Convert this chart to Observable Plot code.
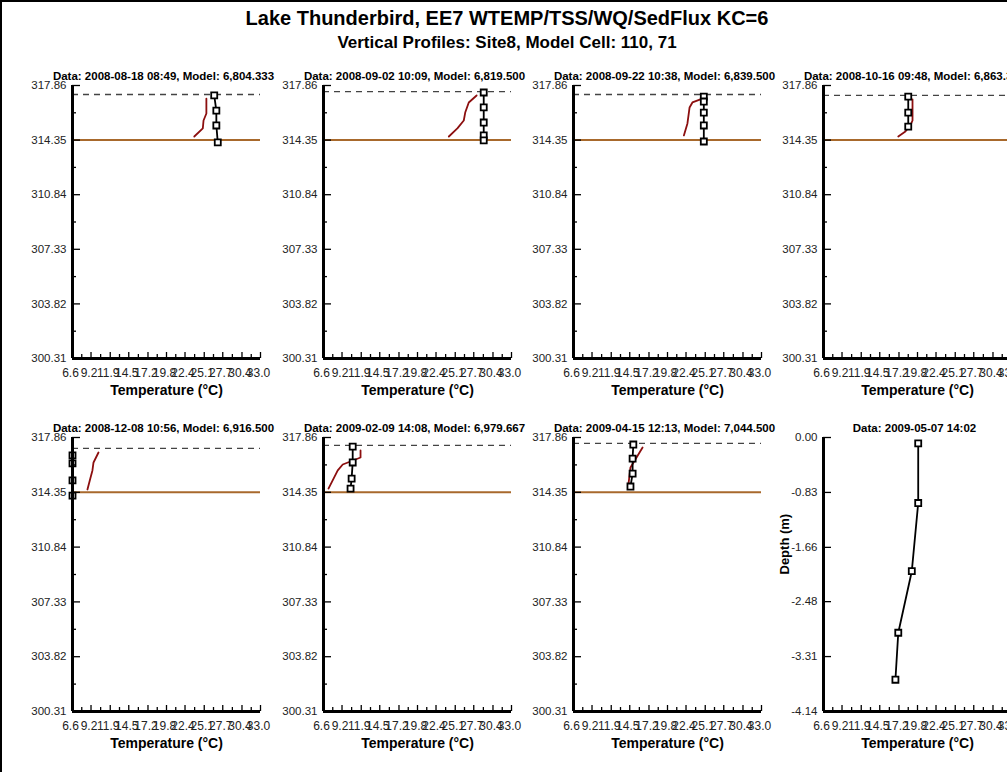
<!DOCTYPE html>
<html><head><meta charset="utf-8">
<script src="https://cdn.jsdelivr.net/npm/d3@7"></script>
<script src="https://cdn.jsdelivr.net/npm/@observablehq/plot@0.6"></script>
<style>
body{margin:0;background:#fff;}
#page{position:relative;width:1007px;height:772px;overflow:hidden;background:#fff;font-family:"Liberation Sans",Arial,sans-serif;}
#frame{position:absolute;left:0;top:0;width:1100px;height:900px;border-left:2px solid #000;border-top:2px solid #000;}
.t{position:absolute;left:0;width:1014px;text-align:center;font-weight:bold;color:#000;white-space:nowrap;line-height:1;}
</style></head><body>
<div id="page"><div id="frame"></div>
<div class="t" id="title" style="top:8px;font-size:20px;"></div>
<div class="t" id="subtitle" style="top:34px;font-size:17px;"></div>
</div>
<script>
const mainTitle = "Lake Thunderbird, EE7 WTEMP/TSS/WQ/SedFlux KC=6";
const subTitle = "Vertical Profiles: Site8, Model Cell: 110, 71";
const panelTitles = [
  "Data: 2008-08-18 08:49, Model: 6,804.333",
  "Data: 2008-09-02 10:09, Model: 6,819.500",
  "Data: 2008-09-22 10:38, Model: 6,839.500",
  "Data: 2008-10-16 09:48, Model: 6,863.333",
  "Data: 2008-12-08 10:56, Model: 6,916.500",
  "Data: 2009-02-09 14:08, Model: 6,979.667",
  "Data: 2009-04-15 12:13, Model: 7,044.500",
  "Data: 2009-05-07 14:02"
];
const xLabel = "Temperature (°C)";
const depthLabel = "Depth (m)";
const tempTicks = [6.6, 9.2, 11.9, 14.5, 17.2, 19.8, 22.4, 25.1, 27.7, 30.4, 33.0];
const elevTicks = [300.31, 303.82, 307.33, 310.84, 314.35, 317.86];
const depthTicks = [-4.14, -3.31, -2.48, -1.66, -0.83, 0.00];
const bedElev = 314.35;
const surfaceElev = [317.28, 317.47, 317.28, 317.22, 317.16, 317.35, 317.48];

// measured profiles (black, with markers)
const obsTemp = [
  [26.5, 26.8, 26.8, 27.0],
  [29.1, 29.1, 29.1, 29.1, 29.1],
  [24.9, 24.9, 24.9, 24.9, 24.9],
  [18.5, 18.5, 18.5],
  [6.6, 6.6, 6.6, 6.6],
  [10.7, 10.7, 10.55, 10.4],
  [15.0, 14.9, 14.9, 14.6]
];
const obsElev = [
  [317.22, 316.25, 315.29, 314.20],
  [317.41, 316.45, 315.48, 314.65, 314.33],
  [317.15, 316.83, 316.12, 315.29, 314.26],
  [317.15, 316.12, 315.22],
  [316.71, 316.20, 315.11, 314.14],
  [317.28, 316.26, 315.23, 314.59],
  [317.41, 316.51, 315.55, 314.72]
];
// model profiles (dark red)
const modelTemp = [
  [25.4, 25.4, 25.0, 24.9, 23.7],
  [28.1, 27.0, 26.5, 26.3, 25.4, 24.2],
  [24.7, 23.3, 22.9, 22.6, 22.1],
  [19.1, 19.1, 18.8, 18.1, 17.1],
  [10.25, 9.55, 9.4, 9.1, 8.7],
  [11.8, 11.8, 11.1, 9.3, 8.6, 7.3],
  [16.3, 14.6, 14.3]
];
const modelElev = [
  [317.02, 316.06, 315.61, 315.10, 314.58],
  [317.22, 316.77, 316.12, 315.61, 315.10, 314.58],
  [317.02, 316.77, 316.45, 315.42, 314.65],
  [316.96, 315.61, 315.29, 314.90, 314.58],
  [316.90, 316.26, 315.75, 315.23, 314.53],
  [317.03, 316.58, 316.45, 316.13, 315.75, 314.59],
  [317.22, 315.94, 314.79]
];
// last panel: depth profile
const depthObsTemp = [19.9, 19.9, 19.0, 17.1, 16.7];
const depthObsDepth = [-0.09, -0.99, -2.02, -2.95, -3.66];

document.getElementById("title").textContent = mainTitle;
document.getElementById("subtitle").textContent = subTitle;

const FONT = "'Liberation Sans', Arial, sans-serif";
const colX = [72, 323, 573, 823];
const rowTop = [85, 437];
const PW = 188, PH = [273, 274];
const ML = 62, MR = 14, MT = 30, MB = 52;
const BLACK = "#000", RED = "#8c0f0f", BROWN = "#a8692c";

const mids = a => d3.pairs(a).map(([p, q]) => (p + q) / 2);

function panel(i) {
  const col = i % 4, row = Math.floor(i / 4);
  const isDepth = i === 7;
  const yT = isDepth ? depthTicks : elevTicks;
  const yDomain = [yT[0], yT[yT.length - 1]];
  const xmin = tempTicks[0];
  const marks = [];
  let obs;
  if (!isDepth) {
    obs = obsTemp[i].map((t, j) => ({t, y: obsElev[i][j]}));
    const mod = modelTemp[i].map((t, j) => ({t, y: modelElev[i][j]}));
    marks.push(
      Plot.ruleY([bedElev], {stroke: BROWN, strokeWidth: 2}),
      Plot.ruleY([surfaceElev[i]], {stroke: "#444", strokeWidth: 1.3, strokeDasharray: "6,5"}),
      Plot.line(mod, {x: "t", y: "y", stroke: RED, strokeWidth: 1.8})
    );
  } else {
    obs = depthObsTemp.map((t, j) => ({t, y: depthObsDepth[j]}));
  }
  marks.push(
    Plot.line(obs, {x: "t", y: "y", stroke: BLACK, strokeWidth: 1.8}),
    Plot.dot(obs, {x: "t", y: "y", symbol: "square", r: 3.4, stroke: BLACK, strokeWidth: 1.8, fill: "white"}),
    Plot.ruleX([xmin], {stroke: BLACK, strokeWidth: 3}),
    Plot.ruleY([yDomain[0]], {stroke: BLACK, strokeWidth: 3}),
    Plot.axisY(yT, {label: null, tickSize: -8, text: null, stroke: BLACK, strokeWidth: 1.3}),
    Plot.axisY(yT, {label: null, tickSize: 0, tickPadding: 6, tickFormat: d => d.toFixed(2), fontSize: 11.5, fill: "#222"}),
    Plot.axisX(tempTicks, {label: null, tickSize: -6, text: null, stroke: BLACK, strokeWidth: 1.3}),
    Plot.axisX(mids(tempTicks), {label: null, tickSize: -4, text: null, stroke: BLACK, strokeWidth: 1.3}),
    Plot.axisX(tempTicks, {label: null, tickSize: 0, tickPadding: 10, dx: -2, tickFormat: d => d.toFixed(1), fontSize: 12, fill: "#222"}),
    Plot.text([xLabel], {text: d => d, frameAnchor: "bottom", dy: 36, fontWeight: "bold", fontSize: 14, fill: BLACK}),
    Plot.text([panelTitles[i]], {text: d => d, frameAnchor: "top", dy: -14, dx: -3, fontWeight: "bold", fontSize: 11.5, fill: BLACK})
  );
  if (!isDepth) {
    marks.push(Plot.axisY(mids(yT), {label: null, tickSize: -4, text: null, stroke: BLACK, strokeWidth: 1.3}));
  } else {
    marks.push(Plot.text([depthLabel], {text: d => d, frameAnchor: "left", rotate: -90, dx: -39, fontWeight: "bold", fontSize: 13, fill: BLACK}));
  }
  const svg = Plot.plot({
    width: ML + PW + MR, height: MT + PH[row] + MB,
    marginLeft: ML, marginRight: MR, marginTop: MT, marginBottom: MB,
    x: {domain: [tempTicks[0], tempTicks[tempTicks.length - 1]], label: null},
    y: {domain: yDomain, label: null},
    style: {fontFamily: FONT, fontSize: "11px", color: "#000", background: "transparent", overflow: "visible"},
    marks
  });
  svg.style.position = "absolute";
  svg.style.left = (colX[col] - ML) + "px";
  svg.style.top = (rowTop[row] - MT) + "px";
  svg.style.maxWidth = "none";
  document.getElementById("page").appendChild(svg);
}
for (let i = 0; i < 8; i++) panel(i);
</script>
</body></html>
